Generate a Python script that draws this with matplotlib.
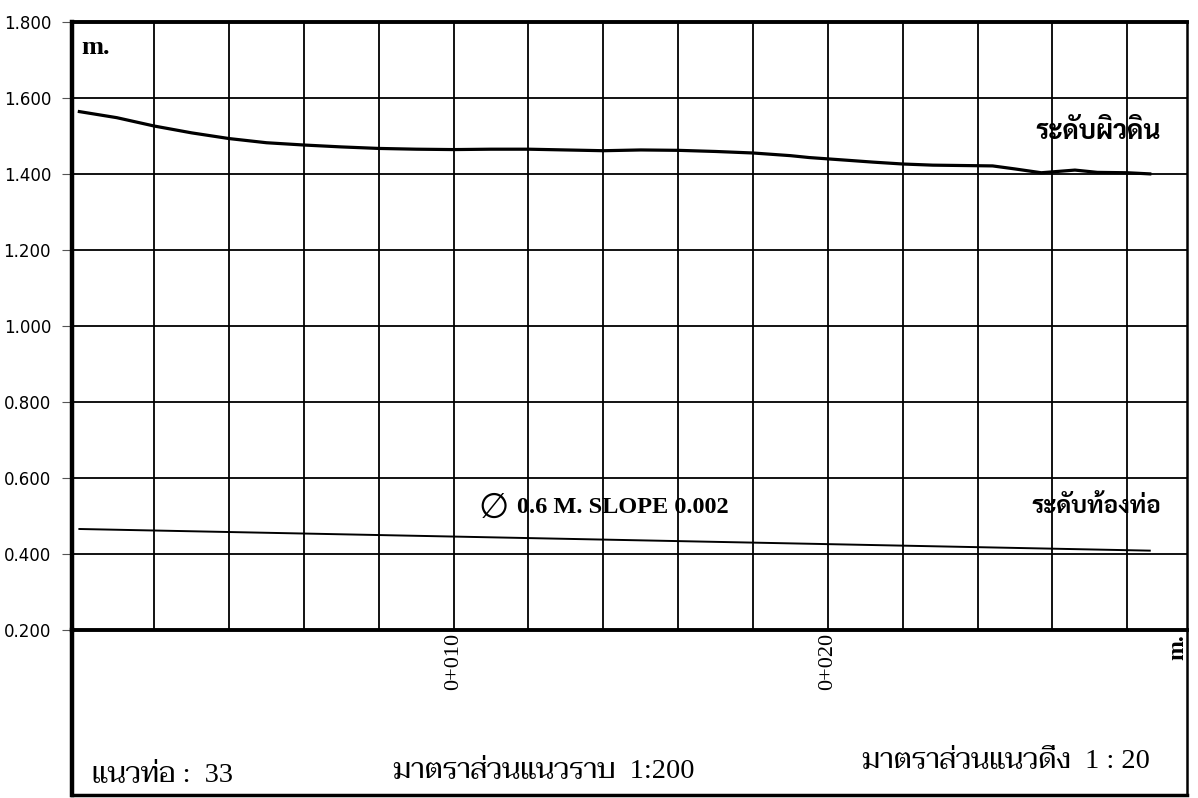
import matplotlib
matplotlib.use("Agg")
import matplotlib.pyplot as plt
from matplotlib import font_manager

# ground surface level along the pipe line (station m, level m)
ground_sta = [0, 1, 2, 3, 4, 5, 6, 7, 8, 9, 10, 11, 12, 13, 14, 15, 16, 17, 18,
              19, 19.5, 20.5, 21.2, 22, 22.8, 23.6, 24.4, 25.0, 25.7, 26.6,
              27.2, 28.0, 28.6]
ground_lvl = [1.565, 1.549, 1.527, 1.509, 1.494, 1.483, 1.477, 1.472, 1.468,
              1.466, 1.465, 1.466, 1.466, 1.464, 1.462, 1.464, 1.463, 1.460,
              1.456, 1.449, 1.444, 1.437, 1.432, 1.427, 1.424, 1.423, 1.422,
              1.414, 1.404, 1.411, 1.405, 1.404, 1.401]

# pipe invert level
invert_sta = [0, 28.6]
invert_lvl = [0.466, 0.409]

y_ticks = [0.2, 0.4, 0.6, 0.8, 1.0, 1.2, 1.4, 1.6, 1.8]
x_grid = list(range(2, 30, 2))
station_labels = {10: "0+010", 20: "0+020"}


def first_font(cands):
    names = {f.name for f in font_manager.fontManager.ttflist}
    return next((n for n in cands if n in names), "DejaVu Sans")


thai_sans = first_font(["Sarabun", "Noto Sans Thai", "Athiti"])
thai_serif = first_font(["Taviraj", "Trirong", "Noto Serif Thai", "Sarabun"])
serif = "Liberation Serif"

fig = plt.figure(figsize=(11.98, 7.98), dpi=100)
ax = fig.add_axes([0.060, 0.2105, 0.931, 0.7615])

ax.plot(ground_sta, ground_lvl, color="black", lw=2.3, zorder=3)
ax.plot(invert_sta, invert_lvl, color="black", lw=1.4, zorder=3)

ax.set_xlim(-0.2, 29.6)
ax.set_ylim(0.2, 1.8)
ax.set_yticks(y_ticks)
ax.set_yticklabels(["%.3f" % v for v in y_ticks], fontsize=12,
                   family="DejaVu Sans")
ax.set_xticks(x_grid)
ax.set_xticklabels([station_labels.get(s, "") for s in x_grid], rotation=90,
                   fontsize=16, family=serif)
ax.tick_params(axis="x", length=0, pad=2)
ax.tick_params(axis="y", length=7, width=0.8, color="#555555", pad=8)
ax.grid(True, color="black", lw=1.3)

ax.spines["left"].set_linewidth(3.2)
ax.spines["top"].set_linewidth(2.8)
ax.spines["bottom"].set_linewidth(2.8)
ax.spines["right"].set_linewidth(1.8)

ax.text(0.05, 1.735, "m.", fontsize=19, family=serif, fontweight="bold",
        va="center")
ax.text(28.9, 1.51, "ระดับผิวดิน", fontsize=19, family=thai_sans,
        fontweight="bold", ha="right", va="center")
ax.text(28.9, 0.525, "ระดับท้องท่อ", fontsize=17.5, family=thai_sans,
        fontweight="bold", ha="right", va="center")
ax.text(10.65, 0.523, "\u2205", fontsize=25, family="DejaVu Sans",
        va="center")
ax.text(11.7, 0.523, "0.6 M. SLOPE 0.002", fontsize=17.5, family=serif,
        fontweight="bold", va="center")
ax.text(29.35, 0.19, "m.", fontsize=17, family=serif, fontweight="bold",
        rotation=90, ha="center", va="top")

# title block under the profile
box = fig.add_axes([0.060, 0.004, 0.931, 0.2065])
box.set_xticks([])
box.set_yticks([])
box.patch.set_alpha(0)
box.spines["left"].set_linewidth(3.2)
box.spines["top"].set_visible(False)
box.spines["bottom"].set_linewidth(2.5)
box.spines["right"].set_linewidth(1.8)
mixed = [serif, thai_serif]
box.text(0.018, 0.08, "แนวท่อ :  33", fontsize=20.5, family=mixed,
         transform=box.transAxes)
box.text(0.288, 0.10, "มาตราส่วนแนวราบ  1:200", fontsize=20.5, family=mixed,
         transform=box.transAxes)
box.text(0.708, 0.16, "มาตราส่วนแนวดิ่ง  1 : 20", fontsize=20.5, family=mixed,
         transform=box.transAxes)

fig.savefig("out.png", dpi=100)
